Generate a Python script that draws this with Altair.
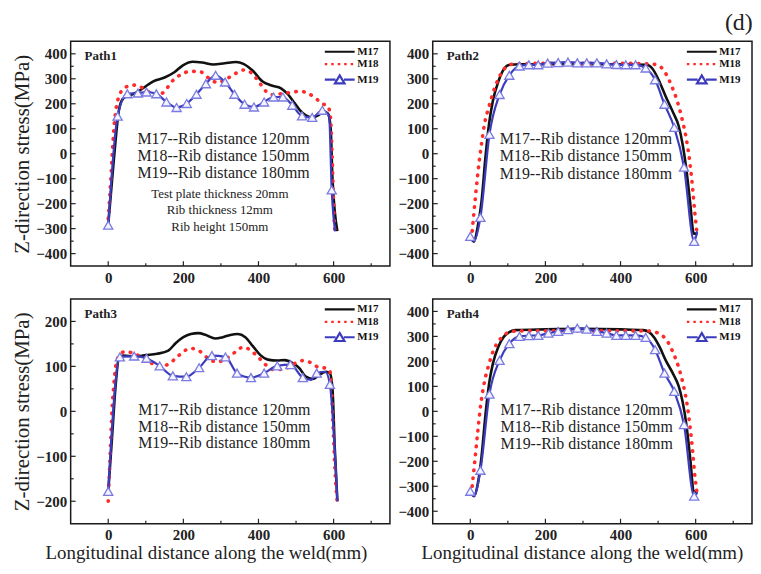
import altair as alt
import pandas as pd

FONT = "Liberation Serif"
SERIES = ["M17", "M18", "M19"]
COL17, COL18, COL19 = "#111111", "#ff2a2a", "#3b3bbd"
TRI_STROKE, TRI_FILL = "#7a7ae0", "#f4f4ff"

X_DOMAIN = [-100, 750]
X_MAJOR = [0, 200, 400, 600]
X_MINOR = [100, 300, 500, 700]

# ---------------- Path1 ----------------
p1_m17_x = [0, 10, 20, 27, 35, 48, 60, 80, 100, 120, 150, 175, 200, 225, 250, 280, 310, 340, 360, 385, 410, 435, 460, 480, 495, 510, 525, 545, 560, 575, 585, 592, 597, 603, 610]
p1_m17_y = [-285, -110, 60, 160, 210, 230, 235, 250, 270, 290, 305, 325, 355, 368, 365, 357, 362, 367, 360, 332, 290, 273, 262, 235, 205, 175, 155, 145, 155, 168, 160, 105, -100, -230, -310]
p1_m18_x = [0, 5, 10, 15, 20, 30, 45, 65, 85, 105, 130, 150, 170, 195, 220, 245, 270, 290, 310, 335, 360, 380, 400, 420, 440, 460, 485, 510, 530, 550, 570, 585, 592, 596, 600, 604]
p1_m18_y = [-260, -150, -20, 100, 170, 235, 265, 275, 268, 250, 232, 250, 290, 318, 330, 328, 300, 285, 295, 318, 335, 325, 290, 250, 235, 240, 245, 250, 243, 225, 200, 190, 140, 0, -200, -330]
p1_m19_x = [0, 25, 51, 79, 102, 128, 155, 182, 209, 235, 260, 286, 311, 336, 363, 388, 415, 440, 465, 490, 516, 543, 570, 588, 595, 604]
p1_m19_y = [-286, 150, 240, 243, 247, 240, 207, 185, 201, 238, 280, 314, 287, 238, 198, 187, 207, 227, 227, 194, 151, 145, 174, 150, -145, -311]
p1_m19_mark = [1, 1, 1, 1, 1, 1, 1, 1, 1, 1, 1, 1, 1, 1, 1, 1, 1, 1, 1, 1, 1, 1, 1, 0, 1, 0]

# ---------------- Path2 ----------------
p2_m17_x = [0, 10, 20, 30, 40, 50, 60, 75, 90, 105, 130, 200, 300, 400, 470, 485, 500, 520, 540, 555, 565, 575, 585, 595, 605]
p2_m17_y = [-335, -352, -290, -190, -20, 120, 210, 290, 340, 356, 358, 358, 358, 358, 356, 340, 300, 230, 165, 110, 40, -60, -190, -320, -318]
p2_m18_x = [5, 12, 20, 28, 38, 50, 62, 75, 88, 100, 120, 200, 300, 400, 470, 490, 505, 520, 535, 550, 562, 575, 585, 592, 598, 603]
p2_m18_y = [-310, -200, -80, 20, 120, 190, 250, 300, 335, 352, 360, 362, 362, 362, 360, 358, 350, 322, 275, 215, 150, 60, -40, -140, -240, -310]
p2_m19_x = [0, 9, 27, 51, 78, 104, 131, 156, 181, 206, 234, 260, 285, 310, 337, 363, 389, 414, 440, 467, 492, 517, 543, 569, 596, 604]
p2_m19_y = [-331, -350, -255, 77, 237, 314, 351, 356, 356, 363, 365, 367, 364, 364, 364, 360, 357, 356, 356, 343, 296, 198, 105, -54, -351, -311]
p2_m19_mark = [1, 0, 1, 1, 1, 1, 1, 1, 1, 1, 1, 1, 1, 1, 1, 1, 1, 1, 1, 1, 1, 1, 1, 1, 1, 0]

# ---------------- Path3 ----------------
p3_m17_x = [0, 10, 20, 28, 40, 70, 100, 130, 160, 180, 200, 220, 240, 260, 285, 305, 325, 345, 365, 385, 405, 425, 450, 470, 490, 510, 525, 545, 560, 580, 590, 597, 603, 610]
p3_m17_y = [-180, -60, 60, 118, 124, 122, 125, 128, 135, 152, 165, 172, 174, 170, 162, 165, 170, 172, 165, 145, 125, 115, 113, 114, 108, 95, 78, 72, 80, 88, 85, 50, -80, -200]
p3_m18_x = [0, 5, 10, 15, 20, 30, 45, 70, 95, 120, 140, 160, 180, 200, 220, 245, 270, 290, 310, 335, 360, 380, 400, 420, 440, 460, 480, 500, 520, 540, 560, 580, 590, 595, 600, 605, 610]
p3_m18_y = [-200, -100, 0, 60, 100, 125, 133, 128, 118, 105, 100, 105, 118, 133, 140, 133, 115, 110, 115, 130, 143, 135, 120, 103, 93, 93, 98, 108, 113, 108, 98, 96, 90, 40, -60, -150, -205]
p3_m19_x = [0, 31, 69, 102, 137, 172, 208, 242, 276, 312, 343, 380, 415, 450, 485, 518, 540, 555, 578, 590, 610]
p3_m19_y = [-178, 121, 123, 118, 101, 79, 77, 97, 124, 121, 85, 75, 85, 101, 104, 75, 70, 85, 88, 60, -200]
p3_m19_mark = [1, 1, 1, 1, 1, 1, 1, 1, 1, 1, 1, 1, 1, 1, 1, 1, 0, 1, 0, 1, 0]

# ---------------- Path4 ----------------
p4_m17_x = [0, 10, 20, 30, 40, 50, 60, 75, 90, 105, 120, 200, 300, 400, 460, 475, 490, 505, 520, 540, 555, 565, 575, 585, 595, 605]
p4_m17_y = [-320, -340, -290, -180, -20, 110, 190, 260, 300, 318, 325, 328, 330, 328, 325, 318, 295, 255, 205, 150, 100, 40, -50, -180, -320, -325]
p4_m18_x = [5, 12, 20, 28, 38, 50, 62, 75, 90, 105, 130, 200, 300, 400, 470, 490, 510, 525, 540, 555, 568, 578, 585, 592, 598, 603]
p4_m18_y = [-300, -200, -80, 30, 120, 190, 245, 280, 305, 318, 322, 322, 322, 322, 322, 318, 305, 280, 235, 175, 100, 20, -60, -160, -260, -320]
p4_m19_x = [0, 9, 27, 51, 78, 104, 131, 156, 181, 208, 234, 260, 285, 310, 337, 363, 389, 414, 440, 467, 492, 517, 543, 569, 596, 604]
p4_m19_y = [-320, -340, -236, 69, 204, 271, 300, 303, 304, 313, 320, 327, 333, 329, 320, 313, 304, 304, 304, 296, 247, 153, 80, -53, -340, -325]
p4_m19_mark = [1, 0, 1, 1, 1, 1, 1, 1, 1, 1, 1, 1, 1, 1, 1, 1, 1, 1, 1, 1, 1, 1, 1, 1, 1, 0]

NOTE_BIG = ["M17--Rib distance 120mm", "M18--Rib distance 150mm", "M19--Rib distance 180mm"]
NOTE_SMALL = ["Test plate thickness 20mm", "Rib thickness 12mm", "Rib height 150mm"]

W, H = 321, 226
# legend glyphs (unit-square paths, scaled by the legend symbol size)
LINE_PATH = "M-3.75,0H3.75"
TRI_PATH = "M-3.75,0H-1.05M1.05,0H3.75M0,-1.05L1.2,0.95L-1.2,0.95Z"


def panel(label, s17, s18, s19, ydom, ymaj, ymin, notes, xtitle, ytitle, xtitle_x=None):
    xs = alt.Scale(domain=X_DOMAIN, nice=False, zero=False)
    ys = alt.Scale(domain=ydom, nice=False, zero=False)
    xkw = dict(values=X_MAJOR, ticks=False, domain=False, grid=False, labelPadding=4,
               titlePadding=1, labelFlush=False)
    ykw = dict(values=ymaj, ticks=False, domain=False, grid=False, labelPadding=4,
               titlePadding=3, labelFlush=False)
    if xtitle:
        xax = alt.Axis(title=xtitle, titleX=xtitle_x, **xkw)
    else:
        xax = alt.Axis(title=None, **xkw)
    yax = alt.Axis(title=ytitle, **ykw) if ytitle else alt.Axis(title=None, **ykw)
    X = alt.X("x:Q", scale=xs, axis=xax)
    Y = alt.Y("y:Q", scale=ys, axis=yax)

    d17 = pd.DataFrame({"x": s17[0], "y": s17[1]})
    d18 = pd.DataFrame({"x": s18[0], "y": s18[1]})
    d19 = pd.DataFrame({"x": s19[0], "y": s19[1], "m": s19[2]})

    l17 = alt.Chart(d17).mark_line(color=COL17, strokeWidth=2.6, interpolate="monotone").encode(x=X, y=Y)
    l18 = alt.Chart(d18).mark_line(color=COL18, strokeWidth=3.6, strokeDash=[0.5, 7.5], strokeCap="round",
                                   interpolate="monotone").encode(x=X, y=Y)
    l19 = alt.Chart(d19).mark_line(color=COL19, strokeWidth=2.2, interpolate="monotone").encode(x=X, y=Y)
    tri = alt.Chart(d19).transform_filter("datum.m == 1").mark_point(
        shape="triangle-up", size=85, filled=True, fill=TRI_FILL, stroke=TRI_STROKE,
        strokeWidth=1.3, opacity=1).encode(x=X, y=Y)

    xmaj = alt.Chart(pd.DataFrame({"x": X_MAJOR})).mark_rule(color="#222", strokeWidth=1.2).encode(
        x=X, y=alt.value(H), y2=alt.value(H - 5))
    xmin = alt.Chart(pd.DataFrame({"x": X_MINOR})).mark_rule(color="#222", strokeWidth=1.2).encode(
        x=X, y=alt.value(H), y2=alt.value(H - 3))
    ymj = alt.Chart(pd.DataFrame({"y": ymaj})).mark_rule(color="#222", strokeWidth=1.2).encode(
        y=Y, x=alt.value(0), x2=alt.value(5))
    ymn = alt.Chart(pd.DataFrame({"y": ymin})).mark_rule(color="#222", strokeWidth=1.2).encode(
        y=Y, x=alt.value(0), x2=alt.value(3))

    nd = pd.DataFrame(notes, columns=["t", "x", "y", "fs"])
    txt = alt.Chart(nd).mark_text(font=FONT, color="#222", align="center", baseline="middle").encode(
        x=X, y=Y, text="t:N", size=alt.Size("fs:Q", scale=None))

    lab = alt.Chart(pd.DataFrame({"t": [label]})).mark_text(
        font=FONT, fontSize=13, fontWeight="bold", color="#222", align="left", baseline="middle").encode(
        x=alt.value(14), y=alt.value(15), text="t:N")

    leg = alt.Legend(title=None, orient="none", legendX=W - 56, legendY=5, padding=0, labelFont=FONT,
                     labelFontSize=11, labelFontWeight="bold", labelColor="#111", symbolSize=64,
                     symbolStrokeWidth=2.2, labelOffset=12, rowPadding=0.5)
    legend_layer = alt.Chart(pd.DataFrame({"series": SERIES})).transform_filter("false").mark_point(
        filled=False, opacity=1).encode(
        color=alt.Color("series:N", scale=alt.Scale(domain=SERIES, range=[COL17, COL18, COL19]), legend=leg),
        shape=alt.Shape("series:N", scale=alt.Scale(domain=SERIES, range=[LINE_PATH, LINE_PATH, TRI_PATH]), legend=leg),
        strokeDash=alt.StrokeDash("series:N", scale=alt.Scale(domain=SERIES, range=[[1, 0], [2.5, 4], [1, 0]]), legend=leg),
    )

    return alt.layer(l17, l18, l19, tri, xmaj, xmin, ymj, ymn, txt, lab, legend_layer).properties(width=W, height=H)


YT = "Z-direction stress(MPa)"
XT = "Longitudinal distance along the weld(mm)"
Y4_MAJ = [-400, -300, -200, -100, 0, 100, 200, 300, 400]
Y4_MIN = [-350, -250, -150, -50, 50, 150, 250, 350]
Y2_MAJ = [-200, -100, 0, 100, 200]
Y2_MIN = [-150, -50, 50, 150]

n1 = [(NOTE_BIG[0], 307, 60, 16), (NOTE_BIG[1], 307, -9, 16), (NOTE_BIG[2], 307, -76, 16),
      (NOTE_SMALL[0], 297, -160, 13), (NOTE_SMALL[1], 297, -227, 13), (NOTE_SMALL[2], 297, -295, 13)]
n2 = [(NOTE_BIG[0], 308, 60, 16), (NOTE_BIG[1], 308, -11, 16), (NOTE_BIG[2], 308, -80, 16)]
n3 = [(NOTE_BIG[0], 309, 2, 16), (NOTE_BIG[1], 309, -35, 16), (NOTE_BIG[2], 309, -71, 16)]
n4 = [(NOTE_BIG[0], 310, 7, 16), (NOTE_BIG[1], 310, -63, 16), (NOTE_BIG[2], 310, -129, 16)]

c1 = panel("Path1", (p1_m17_x, p1_m17_y), (p1_m18_x, p1_m18_y), (p1_m19_x, p1_m19_y, p1_m19_mark),
           [-450, 450], Y4_MAJ, Y4_MIN, n1, None, YT)
c2 = panel("Path2", (p2_m17_x, p2_m17_y), (p2_m18_x, p2_m18_y), (p2_m19_x, p2_m19_y, p2_m19_mark),
           [-450, 450], Y4_MAJ, Y4_MIN, n2, None, None)
c3 = panel("Path3", (p3_m17_x, p3_m17_y), (p3_m18_x, p3_m18_y), (p3_m19_x, p3_m19_y, p3_m19_mark),
           [-250, 250], Y2_MAJ, Y2_MIN, n3, XT, YT, xtitle_x=136)
c4 = panel("Path4", (p4_m17_x, p4_m17_y), (p4_m18_x, p4_m18_y), (p4_m19_x, p4_m19_y, p4_m19_mark),
           [-450, 450], Y4_MAJ, Y4_MIN, n4, XT, None, xtitle_x=150)

chart = alt.concat(
    c1, c2, c3, c4, columns=2, spacing={"row": 33, "column": 43}, bounds="flush",
    title=alt.Title("(d)", anchor="end", fontSize=24, font=FONT, fontWeight="normal", color="#222", offset=6),
    padding={"left": 3, "top": 1, "right": 0, "bottom": 2},
).resolve_scale(
    color="independent", shape="independent", strokeDash="independent"
).resolve_legend(
    color="independent", shape="independent", strokeDash="independent"
).configure_view(
    stroke="#1a1a1a", strokeWidth=1.5
).configure_axis(
    labelFont=FONT, labelFontSize=15, labelFontWeight="bold", labelColor="#222",
    titleFont=FONT, titleFontWeight="normal", titleColor="#222"
).configure_axisX(titleFontSize=19).configure_axisY(titleFontSize=21)

chart.save("out.html", embed_options={"renderer": "svg", "actions": False})
